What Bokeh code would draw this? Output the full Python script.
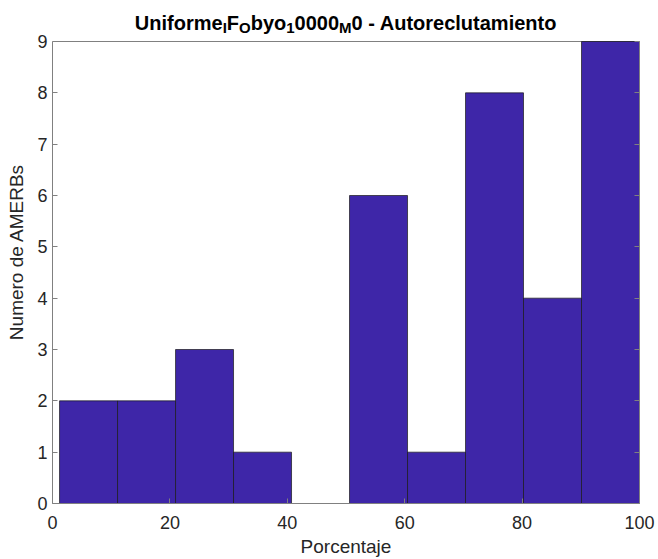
from bokeh.plotting import figure
from bokeh.models import LinearAxis, Range1d, FixedTicker, ColumnDataSource, Span
from bokeh.core.properties import value
from bokeh.embed import file_html
from bokeh.resources import INLINE

# ---- data ----
bin_edges = [1.2, 11.08, 20.96, 30.84, 40.72, 50.6, 60.48, 70.36, 80.24, 90.12, 100.0]
counts = [2, 2, 3, 1, 0, 6, 1, 8, 4, 9]
x_ticks = [0, 20, 40, 60, 80, 100]
y_ticks = [0, 1, 2, 3, 4, 5, 6, 7, 8, 9]
title_parts = ["Uniforme", "I", "F", "O", "byo", "1", "0000", "M", "0 - Autoreclutamiento"]
title_is_sub = [False, True, False, True, False, True, False, True, False]
x_label = "Porcentaje"
y_label = "Numero de AMERBs"

FONT = "Liberation Sans"
TXT = "#262626"
AX = "#808080"
W, H = 658, 559
FRAME_L, FRAME_W = 52, 587
AXES_TOP, AXES_BOTTOM = 41, 503          # pixel rows of y=9 and y=0
Y_MAX = 9
# frame spans from canvas top to AXES_BOTTOM so the title can live inside it
Y_TOP = Y_MAX * AXES_BOTTOM / (AXES_BOTTOM - AXES_TOP)


def px_to_x(px):
    return (px - FRAME_L) / FRAME_W * 100


def py_to_y(py):
    return (AXES_BOTTOM - py) / AXES_BOTTOM * Y_TOP


p = figure(width=W, height=H, output_backend="svg", toolbar_location=None,
           x_range=Range1d(0, 100), y_range=Range1d(0, Y_TOP),
           x_axis_location=None, y_axis_location=None)
p.min_border_left = FRAME_L
p.min_border_top = 0
p.min_border_right = W - FRAME_L - FRAME_W
p.min_border_bottom = H - AXES_BOTTOM
p.grid.visible = False
p.outline_line_color = None
p.background_fill_color = "white"
p.border_fill_color = "white"

p.quad(left=bin_edges[:-1], right=bin_edges[1:], bottom=0, top=counts,
       fill_color="#3E26A8", line_color="#1a1a1a", line_width=0.7)


def style(ax, labels=True):
    ax.axis_line_color = AX
    ax.axis_line_width = 1
    ax.major_tick_line_color = AX
    ax.major_tick_in = 5
    ax.major_tick_out = 0
    ax.minor_tick_line_color = None
    ax.major_label_text_font = FONT
    ax.major_label_text_font_size = "18px"
    ax.major_label_text_color = TXT
    ax.axis_label_text_font = FONT
    ax.axis_label_text_font_size = "19px"
    ax.axis_label_text_font_style = "normal"
    ax.axis_label_text_color = TXT
    if not labels:
        ax.major_label_overrides = {tk: "" for tk in ax.ticker.ticks}
        ax.major_label_text_font_size = "1px"
        ax.major_label_standoff = 0


xb = LinearAxis(ticker=FixedTicker(ticks=x_ticks), axis_label=x_label)
style(xb)
xb.major_label_standoff = 12
xb.axis_label_standoff = 4
p.add_layout(xb, "below")

yl = LinearAxis(ticker=FixedTicker(ticks=y_ticks), axis_label=y_label, bounds=(0, Y_MAX))
style(yl)
yl.major_label_standoff = 5
yl.axis_label_standoff = 7
p.add_layout(yl, "left")

yr = LinearAxis(ticker=FixedTicker(ticks=y_ticks), bounds=(0, Y_MAX))
style(yr, labels=False)
p.add_layout(yr, "right")

p.add_layout(Span(location=Y_MAX, dimension="width", line_color=AX, line_width=1,
                  level="underlay"))

# ---- title with MATLAB tex-style subscripts ----
ARIAL_B = {
    'U': .722, 'n': .611, 'i': .278, 'f': .333, 'o': .611, 'r': .389, 'm': .889, 'e': .556,
    'I': .278, 'F': .611, 'O': .778, 'b': .611, 'y': .556, '1': .556, '0': .556, 'M': .833,
    ' ': .278, '-': .333, 'A': .722, 'u': .611, 't': .333, 'c': .556, 'l': .278, 'a': .556,
}
MAIN, SUB = 20, 15
sizes = [SUB if s else MAIN for s in title_is_sub]
widths = [sum(ARIAL_B.get(c, .6) for c in txt) * sz for txt, sz in zip(title_parts, sizes)]
xs, x0 = [], FRAME_L + FRAME_W / 2 - sum(widths) / 2
for w in widths:
    xs.append(px_to_x(x0))
    x0 += w
main_src = ColumnDataSource(dict(
    x=[x for x, s in zip(xs, title_is_sub) if not s],
    y=[py_to_y(22.7) for s in title_is_sub if not s],
    text=[tx for tx, s in zip(title_parts, title_is_sub) if not s]))
sub_src = ColumnDataSource(dict(
    x=[x for x, s in zip(xs, title_is_sub) if s],
    y=[py_to_y(27.0) for s in title_is_sub if s],
    text=[tx for tx, s in zip(title_parts, title_is_sub) if s]))
for src, sz in ((main_src, MAIN), (sub_src, SUB)):
    p.text(x="x", y="y", text="text", source=src, text_font=value(FONT),
           text_font_style="bold", text_font_size=value(f"{sz}px"), text_color="black",
           text_align="left", text_baseline="alphabetic")

open("out.html", "w").write(file_html(p, INLINE))
